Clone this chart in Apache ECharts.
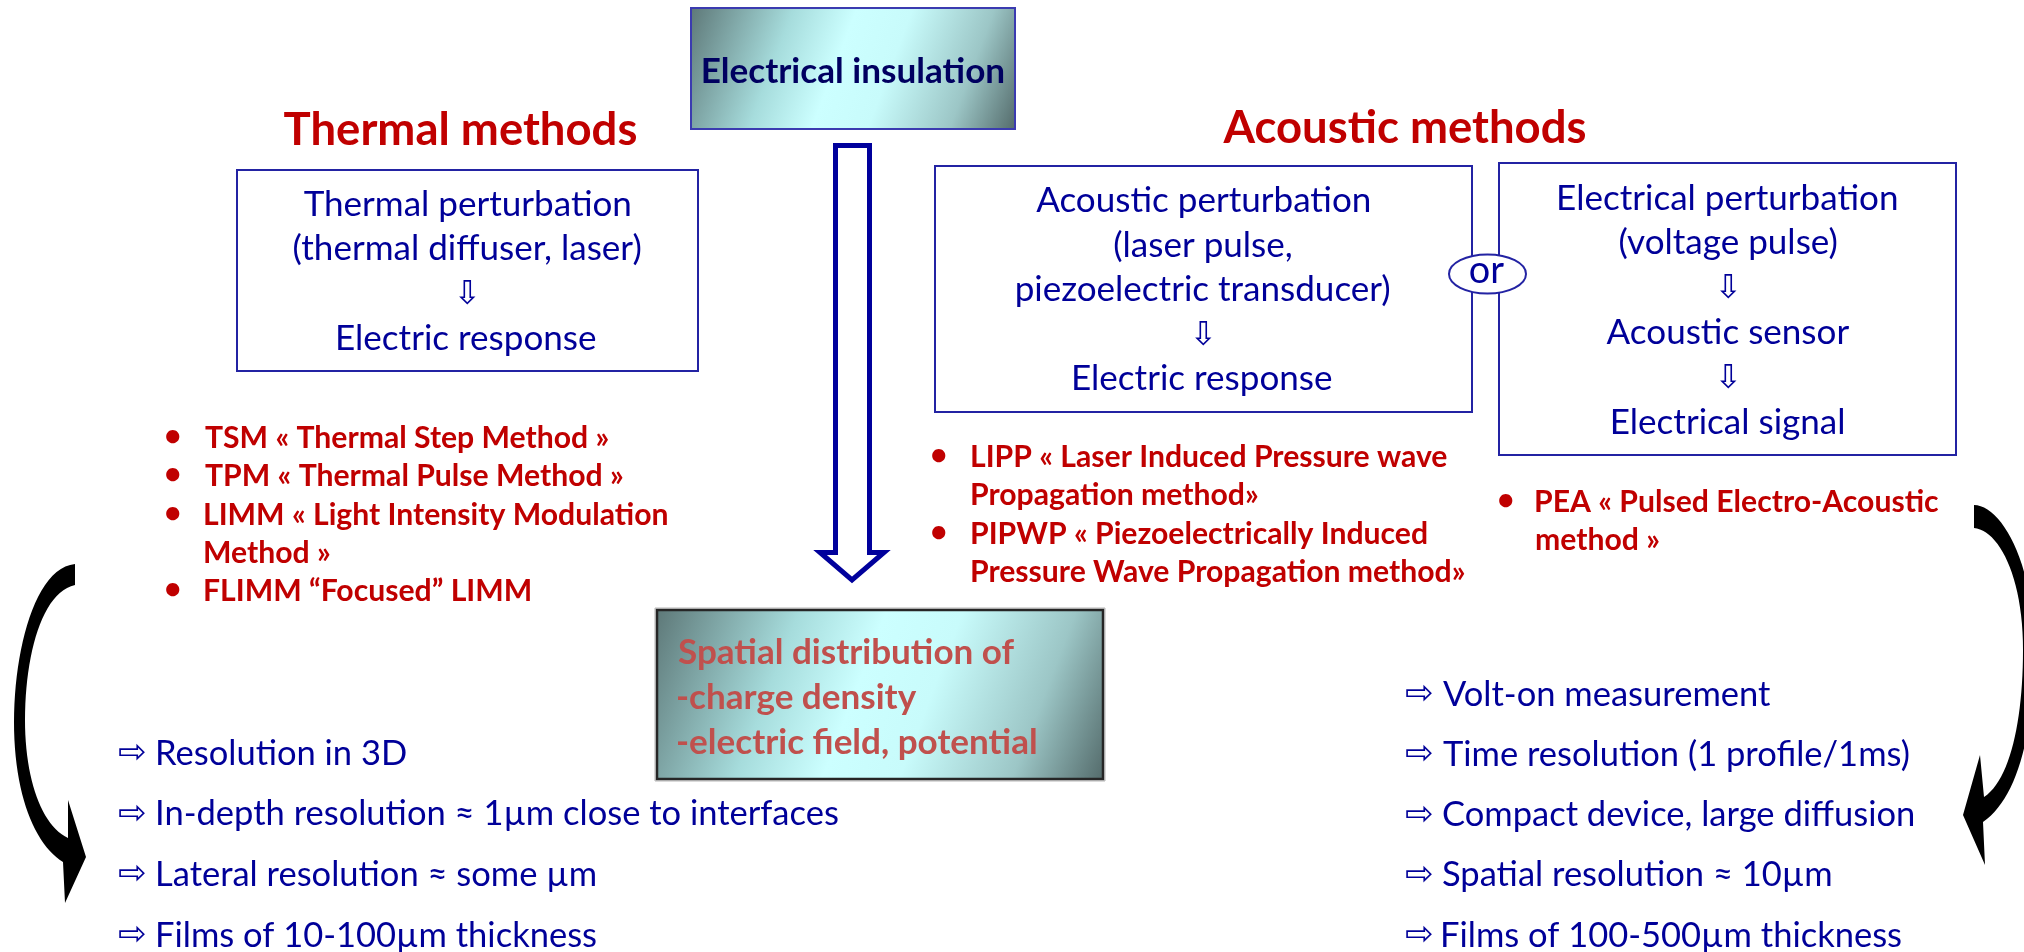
<!DOCTYPE html>
<html><head><meta charset="utf-8">
<script src="https://cdn.jsdelivr.net/npm/echarts@6/dist/echarts.min.js"></script>
<style>html,body{margin:0;padding:0;background:#fff}#c{width:2024px;height:952px}</style>
</head><body><div id="c"></div>
<script>
// ---- content (text data) ----
const titles = ['Thermal methods', 'Acoustic methods'];
const topLabel = 'Electrical insulation';
const thermalBox = ['Thermal perturbation', '(thermal diffuser, laser)', '⇩', 'Electric response'];
const acousticBox = ['Acoustic perturbation', '(laser pulse,', 'piezoelectric transducer)', '⇩', 'Electric response'];
const electricalBox = ['Electrical perturbation', '(voltage pulse)', '⇩', 'Acoustic sensor', '⇩', 'Electrical signal'];
const orLabel = 'or';
const thermalBullets = [['TSM « Thermal Step Method »'], ['TPM « Thermal Pulse Method »'], ['LIMM « Light Intensity Modulation', 'Method »'], ['FLIMM “Focused” LIMM']];
const acousticBullets = [['LIPP « Laser Induced Pressure wave', 'Propagation method»'], ['PIPWP « Piezoelectrically Induced', 'Pressure Wave Propagation method»']];
const peaBullets = [['PEA « Pulsed Electro-Acoustic', 'method »']];
const spatialLines = ['Spatial distribution of', '-charge density', '-electric field, potential'];
const leftList = ['Resolution in 3D', 'In-depth resolution ≈ 1µm close to interfaces', 'Lateral resolution ≈ some µm', 'Films of 10-100µm thickness'];
const rightList = ['Volt-on measurement', 'Time resolution (1 profile/1ms)', 'Compact device, large diffusion', 'Spatial resolution ≈ 10µm', 'Films of 100-500µm thickness'];
const listMark = '⇨';
const bulletMark = '•';

// ---- layout ----
const FAM = "Lato, 'DejaVu Sans', sans-serif";
const NAVY = '#000099', RED = '#C00000', SRED = '#C0504D', DNAVY = '#000060', BORDER = '#2323a3';
const ctx = document.createElement('canvas').getContext('2d');
function ink(str, size, weight) {
  ctx.font = `${weight} ${size}px ${FAM}`;
  ctx.textBaseline = 'middle'; ctx.textAlign = 'left';
  const m = ctx.measureText(str);
  return { L: m.actualBoundingBoxLeft, R: m.actualBoundingBoxRight, A: m.actualBoundingBoxAscent, D: m.actualBoundingBoxDescent, adv: m.width };
}
function fitW(str, target, weight) { const m = ink(str, 100, weight); return 100 * target / (m.L + m.R); }
function fitH(str, target, weight) { const m = ink(str, 100, weight); return 100 * target / (m.A + m.D); }

const g = [];
function txt(str, x, y, size, weight, color, anchor, vmode) {
  const m = ink(str, size, weight);
  const v = vmode === 'ink' ? m : ink('H', size, weight);
  const cy = (v.D - v.A) / 2;
  const inkW = m.L + m.R;
  const left = anchor === 'center' ? x - inkW / 2 : x;
  g.push({ type: 'text', z: 10, x: left + m.L, y: y - cy,
    style: { text: str, fontSize: size, fontWeight: weight, fontFamily: FAM, fill: color, align: 'left', verticalAlign: 'middle' } });
}
function rect(x, y, w, h, style, z) { g.push({ type: 'rect', z: z || 1, shape: { x, y, width: w, height: h }, style }); }

// sample a path made of M / C / L commands into polygon points
function shapePoints(cmds) {
  const pts = []; let cur = null;
  cmds.forEach(c => {
    if (c[0] === 'M' || c[0] === 'L') { cur = [c[1], c[2]]; pts.push(cur); }
    else if (c[0] === 'C') {
      const p0 = cur, p1 = [c[1], c[2]], p2 = [c[3], c[4]], p3 = [c[5], c[6]];
      for (let i = 1; i <= 24; i++) {
        const t = i / 24, u = 1 - t;
        pts.push([u*u*u*p0[0] + 3*u*u*t*p1[0] + 3*u*t*t*p2[0] + t*t*t*p3[0],
                  u*u*u*p0[1] + 3*u*u*t*p1[1] + 3*u*t*t*p2[1] + t*t*t*p3[1]]);
      }
      cur = p3;
    }
  });
  return pts;
}

const titleSize = fitW(titles[0], 352, 'bold');
const insulSize = fitW(topLabel, 300, 'bold');
const boxSize = fitW(thermalBox[0], 326, 'normal');
const bulletSize = fitW(thermalBullets[0][0], 403, 'bold');
const listSize = fitW(leftList[1], 680, 'normal');
const spatialSize = fitW(spatialLines[2], 358, 'bold');
const downSize = fitH('⇩', 25, 'normal');
const rightSize = fitW(listMark, 26, 'normal');

const grad = () => ({ type: 'linear', x: 0, y: 0, x2: 1, y2: 1, colorStops: [
  { offset: 0, color: '#5d7777' }, { offset: 0.28, color: '#a6dcdc' }, { offset: 0.45, color: '#ccffff' },
  { offset: 0.6, color: '#c8fbfb' }, { offset: 0.82, color: '#9cc6c6' }, { offset: 1, color: '#536a6a' }] });

// top box
rect(691, 8, 324, 121, { fill: grad(), stroke: '#3b3bb0', lineWidth: 2 });
txt(topLabel, 853, 70, insulSize, 'bold', DNAVY, 'center', 'cap');

// titles
txt(titles[0], 460, 128, titleSize, 'bold', RED, 'center', 'cap');
txt(titles[1], 1404, 126, titleSize, 'bold', RED, 'center', 'cap');

// method boxes
function box(lines, x, y, w, h, cx, y0, step) {
  rect(x, y, w, h, { fill: '#fff', stroke: BORDER, lineWidth: 2 });
  lines.forEach((s, i) => {
    if (s === '⇩') txt(s, cx, y0 + i * step, downSize, 'normal', NAVY, 'center', 'ink');
    else txt(s, cx, y0 + i * step, boxSize, 'normal', NAVY, 'center', 'cap');
  });
}
box(thermalBox, 237, 170, 461, 201, 467, 203, 44.7);
box(acousticBox, 935, 166, 537, 246, 1203, 199.5, 44.6);
box(electricalBox, 1499, 163, 457, 292, 1728, 197, 44.8);

// "or" ellipse
g.push({ type: 'ellipse', z: 5, shape: { cx: 1487.5, cy: 274, rx: 38.5, ry: 19.5 }, style: { fill: '#fff', stroke: BORDER, lineWidth: 2 } });
txt(orLabel, 1487, 273, boxSize * 1.08, 'normal', NAVY, 'center', 'ink');

// big hollow arrow
g.push({ type: 'polygon', z: 3, shape: { points: [[835.5, 145.5], [869.5, 145.5], [869.5, 552.5], [884, 552.5], [852, 580], [820, 552.5], [835.5, 552.5]] },
  style: { fill: '#fff', stroke: '#00009c', lineWidth: 5, lineJoin: 'miter' } });

// bullets
function bullets(items, dotX, textX, y0, step) {
  let k = 0;
  items.forEach(item => {
    txt(bulletMark, dotX, y0 + k * step, bulletSize, 'bold', RED, 'center', 'ink');
    item.forEach(line => { txt(line, textX, y0 + k * step, bulletSize, 'bold', RED, 'left', 'cap'); k++; });
  });
}
bullets(thermalBullets, 173, 205, 437, 38.3);
bullets(acousticBullets, 939, 972, 456, 38.3);
bullets(peaBullets, 1506, 1536, 501, 38);

// spatial distribution box
rect(655, 608, 450, 173, { fill: 'none', stroke: '#b5b5b5', lineWidth: 1 }, 2);
rect(657, 610, 446, 169, { fill: grad(), stroke: '#262626', lineWidth: 2.5 }, 2);
spatialLines.forEach((s, i) => txt(s, 678, 651 + i * 45, spatialSize, 'bold', SRED, 'left', 'cap'));

// lists
function list(items, markX, textX, y0, step) {
  items.forEach((s, i) => {
    txt(listMark, markX, y0 + i * step, rightSize, 'normal', NAVY, 'left', 'ink');
    txt(s, textX, y0 + i * step, listSize, 'normal', NAVY, 'left', 'cap');
  });
}
list(leftList, 119, 158, 752, 60.7);
list(rightList, 1406, 1443, 693, 60.25);

// curved black arrows
const leftArrow = shapePoints([['M',75,564],['C',35,568,14,650,14,722],['C',14,795,35,845,63,862],['L',65,903],['L',86,857],['L',68,800],['L',68,838],['C',42,826,25,780,25,720],['C',25,655,42,592,75,585]]);
const rightArrow = shapePoints([['M',1974,505],['C',2000,505,2034,560,2034,650],['C',2034,740,2015,800,1983,822],['L',1985,865],['L',1963,815],['L',1980,755],['L',1984,797],['C',2010,780,2023,720,2023,650],['C',2023,575,1998,530,1974,528]]);
g.push({ type: 'polygon', z: 4, shape: { points: leftArrow }, style: { fill: '#000' } });
g.push({ type: 'polygon', z: 4, shape: { points: rightArrow }, style: { fill: '#000' } });

const chart = echarts.init(document.getElementById('c'), null, { renderer: 'canvas', width: 2024, height: 952 });
chart.setOption({ backgroundColor: '#ffffff', animation: false, graphic: { elements: g } });
</script></body></html>
